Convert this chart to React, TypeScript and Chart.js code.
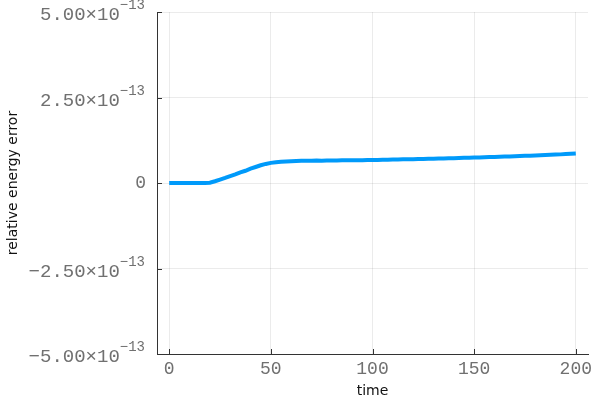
import React, { useEffect, useRef } from "react";
import { Chart, registerables } from "chart.js";

Chart.register(...registerables);

// time samples
const TIME = [
  0, 2.5, 5, 7.5, 10, 12.5, 15, 17.5, 20, 22.5,
  25, 27.5, 30, 32.5, 35, 37.5, 40, 42.5, 45, 47.5,
  50, 52.5, 55, 57.5, 60, 62.5, 65, 67.5, 70, 72.5,
  75, 77.5, 80, 82.5, 85, 87.5, 90, 92.5, 95, 97.5,
  100, 102.5, 105, 107.5, 110, 112.5, 115, 117.5, 120, 122.5,
  125, 127.5, 130, 132.5, 135, 137.5, 140, 142.5, 145, 147.5,
  150, 152.5, 155, 157.5, 160, 162.5, 165, 167.5, 170, 172.5,
  175, 177.5, 180, 182.5, 185, 187.5, 190, 192.5, 195, 197.5,
  200,
];

// relative energy error, in units of 1e-13
const ENERGY_ERROR_E13 = [
  0.0, 0.002, -0.001, 0.001, 0.0, 0.002, -0.002, 0.001, 0.01, 0.052,
  0.1, 0.148, 0.203, 0.252, 0.312, 0.358, 0.42, 0.468, 0.518, 0.558,
  0.588, 0.607, 0.622, 0.631, 0.638, 0.644, 0.648, 0.652, 0.65, 0.655,
  0.654, 0.658, 0.66, 0.657, 0.662, 0.665, 0.663, 0.667, 0.666, 0.67,
  0.672, 0.676, 0.678, 0.683, 0.685, 0.689, 0.692, 0.695, 0.698, 0.702,
  0.705, 0.708, 0.712, 0.716, 0.719, 0.724, 0.727, 0.731, 0.736, 0.74,
  0.745, 0.749, 0.754, 0.758, 0.763, 0.768, 0.772, 0.778, 0.783, 0.788,
  0.794, 0.799, 0.805, 0.811, 0.817, 0.823, 0.83, 0.837, 0.845, 0.853,
  0.862,
];

const Y_UNIT = 1e-13;
const Y_EXPONENT_LABEL = "\u221213";
const X_TICKS = [0, 50, 100, 150, 200];
const Y_TICKS_E13 = [-5, -2.5, 0, 2.5, 5];
const X_MIN = -6;
const X_MAX = 206;
const Y_MIN_E13 = -5;
const Y_MAX_E13 = 5;
const X_LABEL = "time";
const Y_LABEL = "relative energy error";

const MONO = '"Liberation Mono", "DejaVu Sans Mono", monospace';
const SANS = '"DejaVu Sans", sans-serif';
const TICK_COLOR = "#707070";

const axisDecor = {
  id: "axisDecor",
  afterDraw(chart: any) {
    const ctx = chart.ctx as CanvasRenderingContext2D;
    const xs = chart.scales.x;
    const ys = chart.scales.y;
    const { left, bottom } = chart.chartArea;
    ctx.save();
    // inward tick marks
    ctx.strokeStyle = "#333";
    ctx.lineWidth = 1;
    ctx.beginPath();
    for (const t of xs.ticks) {
      const px = Math.round(xs.getPixelForValue(t.value)) + 0.5;
      ctx.moveTo(px, bottom);
      ctx.lineTo(px, bottom - 5);
    }
    for (const t of ys.ticks) {
      const py = Math.round(ys.getPixelForValue(t.value)) + 0.5;
      ctx.moveTo(left, py);
      ctx.lineTo(left + 5, py);
    }
    ctx.stroke();

    // y tick labels with superscript exponent
    ctx.fillStyle = TICK_COLOR;
    ctx.textAlign = "right";
    ctx.textBaseline = "alphabetic";
    const rightEdge = left - 12;
    for (const t of ys.ticks) {
      const py = ys.getPixelForValue(t.value);
      const m = t.value / Y_UNIT;
      if (Math.abs(m) < 1e-9) {
        ctx.font = `18px ${MONO}`;
        ctx.fillText("0", rightEdge + 1, py + 5);
        continue;
      }
      const mant = m.toFixed(2).replace("-", "\u2212") + "\u00d710";
      ctx.font = `14px ${MONO}`;
      const supW = ctx.measureText(Y_EXPONENT_LABEL).width;
      ctx.fillText(Y_EXPONENT_LABEL, rightEdge, py - 3);
      ctx.font = `19px ${MONO}`;
      ctx.fillText(mant, rightEdge - supW, py + 8);
    }
    ctx.restore();
  },
};

export default function App() {
  const ref = useRef<HTMLCanvasElement | null>(null);

  useEffect(() => {
    document.body.style.margin = "0";
    const canvas = ref.current;
    if (!canvas) return;
    const data = TIME.map((t, i) => ({ x: t, y: ENERGY_ERROR_E13[i] * Y_UNIT }));
    const chart = new Chart(canvas, {
      type: "line",
      data: {
        datasets: [
          {
            data,
            borderColor: "#009AFA",
            backgroundColor: "#009AFA",
            borderWidth: 4,
            pointRadius: 0,
            tension: 0,
            fill: false,
          },
        ],
      },
      options: {
        animation: false,
        responsive: false,
        maintainAspectRatio: false,
        layout: { padding: { left: 0, right: 12, top: 12, bottom: 0 } },
        plugins: {
          legend: { display: false },
          tooltip: { enabled: false },
        },
        scales: {
          x: {
            type: "linear",
            min: X_MIN,
            max: X_MAX,
            afterBuildTicks: (scale: any) => {
              scale.ticks = X_TICKS.map((v) => ({ value: v }));
            },
            afterFit: (scale: any) => {
              scale.height = 46;
            },
            grid: {
              color: "rgba(0,0,0,0.08)",
              lineWidth: 1,
              drawTicks: false,
            },
            border: { display: true, color: "#333", width: 1 },
            ticks: {
              autoSkip: false,
              maxRotation: 0,
              padding: 4,
              color: TICK_COLOR,
              font: { family: MONO, size: 18 },
              callback: (v: any) => String(v),
            },
            title: {
              display: true,
              text: X_LABEL,
              color: "#111",
              font: { family: SANS, size: 14 },
              padding: { top: 5, bottom: 0 },
            },
          },
          y: {
            type: "linear",
            min: Y_MIN_E13 * Y_UNIT,
            max: Y_MAX_E13 * Y_UNIT,
            afterBuildTicks: (scale: any) => {
              scale.ticks = Y_TICKS_E13.map((v) => ({ value: v * Y_UNIT }));
            },
            afterFit: (scale: any) => {
              scale.width = 157;
            },
            grid: {
              color: "rgba(0,0,0,0.08)",
              lineWidth: 1,
              drawTicks: false,
            },
            border: { display: true, color: "#333", width: 1 },
            ticks: { display: false },
            title: {
              display: true,
              text: Y_LABEL,
              color: "#111",
              font: { family: SANS, size: 14 },
              padding: { top: 5, bottom: 0 },
            },
          },
        },
      },
      plugins: [axisDecor],
    } as any);
    return () => chart.destroy();
  }, []);

  return (
    <div style={{ position: "absolute", left: 0, top: 0, width: 600, height: 400 }}>
      <canvas ref={ref} width={600} height={400} style={{ display: "block" }} />
    </div>
  );
}
